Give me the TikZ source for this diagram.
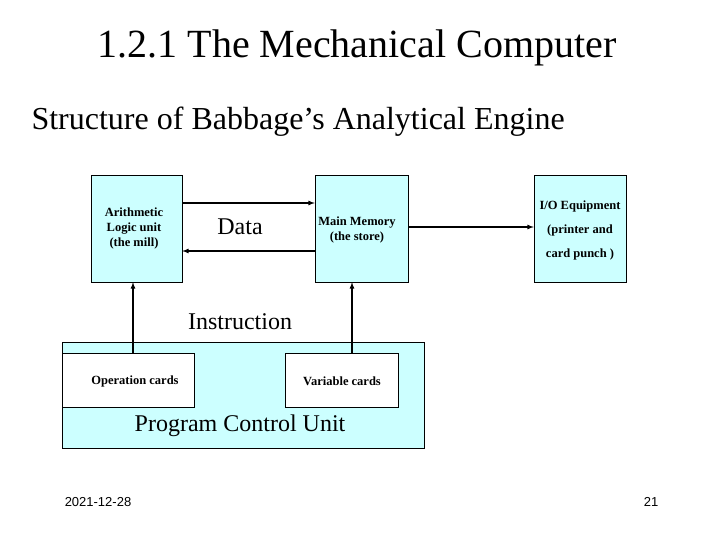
\documentclass[tikz,border=0pt]{standalone}
\usepackage{fontspec}
\setmainfont{Liberation Serif}
\newfontfamily\sfoot{Liberation Sans}
\definecolor{boxc}{HTML}{CCFFFF}
\begin{document}
\begin{tikzpicture}[x=1pt,y=-1pt,
  box/.style={draw,fill=boxc,inner sep=0pt},
  card/.style={draw,fill=white,inner sep=0pt},
  arr/.style={-latex,line width=1.2pt},
  small/.style={font=\fontsize{12.5}{15}\selectfont\bfseries,align=center}]
\useasboundingbox (0,0) rectangle (720,540);
\node[font=\fontsize{40}{44}\selectfont] (title) at (357,48) {1.2.1 The Mechanical Computer};
\node[font=\fontsize{32}{36}\selectfont,anchor=west] (sub) at (28,122) {Structure of Babbage’s Analytical Engine};
\node[box,minimum width=91,minimum height=107] (alu) at (136.5,228.5) {};
\node[small] (alut) at (134,228) {Arithmetic\\Logic unit\\(the mill)};
\node[box,minimum width=93,minimum height=107] (mem) at (361.5,228.5) {};
\node[small] (memt) at (357,230) {Main Memory\\(the store)};
\node[box,minimum width=92,minimum height=107] (io) at (580,228.5) {};
\node[small,font=\fontsize{12.5}{24}\selectfont\bfseries] (iot) at (580,230) {I/O Equipment\\(printer and\\card punch )};
\node[box,minimum width=362,minimum height=106] (pcu) at (243,395) {};
\node[card,minimum width=132,minimum height=54] (op) at (128,380) {};
\node[small] (opt) at (135,381) {Operation cards};
\node[card,minimum width=113,minimum height=54] (var) at (341.5,380) {};
\node[small] (vart) at (342,381) {Variable cards};
\node[font=\fontsize{24}{28}\selectfont] (data) at (240,227) {Data};
\node[font=\fontsize{24}{28}\selectfont] (instr) at (240,322) {Instruction};
\node[font=\fontsize{24}{28}\selectfont] (pcut) at (240,426) {Program Control Unit};
\node[font=\sfoot\fontsize{13}{16}\selectfont] (date) at (98,502) {2021-12-28};
\node[font=\sfoot\fontsize{13}{16}\selectfont] (pg) at (651,502) {21};
\draw[arr] (alu.east |- 0,203) -- (mem.west |- 0,203);
\draw[arr] (mem.west |- 0,251) -- (alu.east |- 0,251);
\draw[arr] (mem.east |- 0,227) -- (io.west |- 0,227);
\draw[arr] (op.north -| 133,0) -- (alu.south -| 133,0);
\draw[arr] (var.north -| 352,0) -- (mem.south -| 352,0);
\end{tikzpicture}
\end{document}
